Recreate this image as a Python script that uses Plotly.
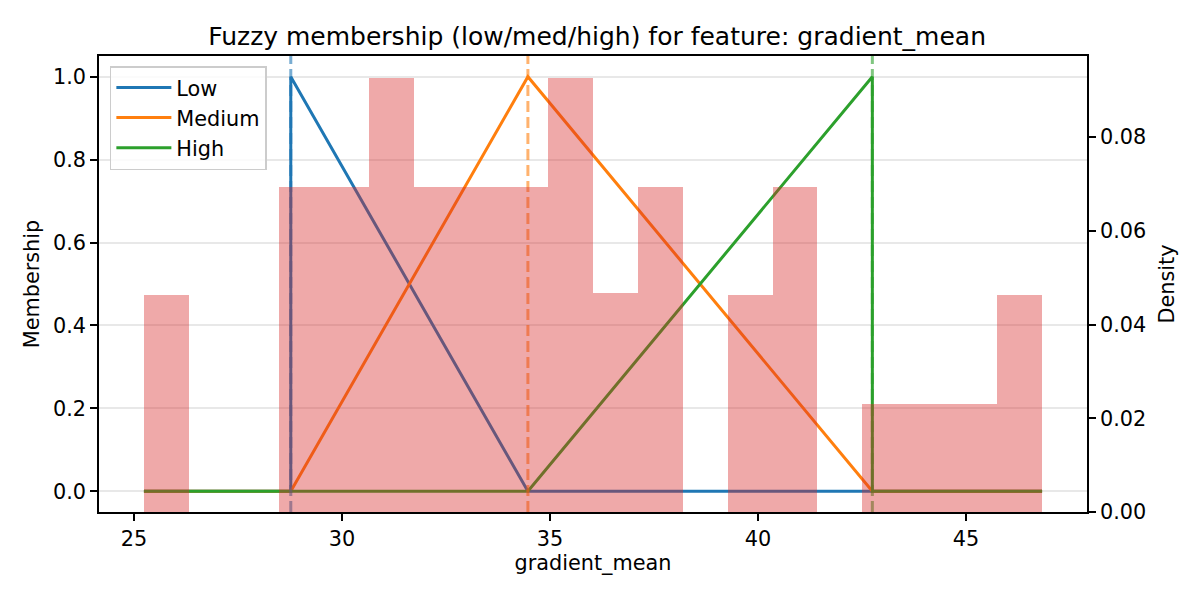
import plotly.graph_objects as go

# histogram of the feature (density, 20 bins, n = 40)
bin_edges = [25.24, 26.32, 27.40, 28.48, 29.56, 30.64, 31.72, 32.80, 33.88, 34.96,
             36.04, 37.11, 38.19, 39.27, 40.35, 41.43, 42.51, 43.59, 44.67, 45.75, 46.83]
bin_counts = [2, 0, 0, 3, 3, 4, 3, 3, 3, 4, 2, 3, 0, 2, 3, 0, 1, 1, 1, 2]
n_samples = 40

# fuzzy set breakpoints
x_min, x_max = 25.24, 46.83
p_low, p_med, p_high = 28.77, 34.47, 42.75

names = ['Low', 'Medium', 'High']
colors = ['#1f77b4', '#ff7f0e', '#2ca02c']
dash_colors = ['rgba(31,119,180,0.6)', 'rgba(255,127,14,0.6)', 'rgba(44,160,44,0.6)']

mf_x = [
    [x_min, p_low, p_low, p_med, x_max],
    [x_min, p_low, p_med, p_high, x_max],
    [x_min, p_med, p_high, p_high, x_max],
]
mf_y = [
    [0, 0, 1, 0, 0],
    [0, 0, 1, 0, 0],
    [0, 0, 1, 0, 0],
]

FONT = 'DejaVu Sans'
FS = 20.8
# page body has an 8px margin, so the figure is a bit smaller to fit the window
W, H = 1192, 592
widths = [bin_edges[i + 1] - bin_edges[i] for i in range(len(bin_counts))]
centers = [(bin_edges[i] + bin_edges[i + 1]) / 2 for i in range(len(bin_counts))]
density = [c / (n_samples * w) for c, w in zip(bin_counts, widths)]

fig = go.Figure()

# membership curves on the left axis
for i in range(3):
    fig.add_trace(go.Scatter(x=mf_x[i], y=mf_y[i], mode='lines', name=names[i],
                             line=dict(color=colors[i], width=3),
                             legendgroup=names[i], yaxis='y'))

# dashed breakpoint markers
for p, c in zip([p_low, p_med, p_high], dash_colors):
    fig.add_trace(go.Scatter(x=[p, p], y=[-0.05, 1.05], mode='lines', showlegend=False,
                             line=dict(color=c, width=3, dash='11px,5px'),
                             hoverinfo='skip', yaxis='y'))

# histogram on the right axis (drawn above the lines)
fig.add_trace(go.Bar(x=centers, y=density, width=widths, showlegend=False,
                     marker=dict(color='rgba(214,39,40,0.4)', line=dict(width=0)),
                     yaxis='y2'))

axis_common = dict(showline=True, linecolor='black', linewidth=1.6, ticks='outside',
                   ticklen=7, tickwidth=1.6, tickcolor='black',
                   tickfont=dict(size=FS, color='black'),
                   zeroline=False, automargin=False)

fig.update_layout(
    width=W, height=H,
    margin=dict(l=91, r=113, t=48, b=88),
    plot_bgcolor='white', paper_bgcolor='white',
    font=dict(family=FONT, size=FS, color='black'),
    bargap=0,
    title=dict(text='Fuzzy membership (low/med/high) for feature: gradient_mean',
               x=0.4942, xanchor='center', y=1 - 28 / H, yanchor='middle',
               font=dict(size=25, color='black')),
    xaxis=dict(range=[24.16, 47.91], tickvals=[25, 30, 35, 40, 45], showgrid=False,
               mirror=True, title=dict(text='gradient_mean', font=dict(size=FS), standoff=4),
               **axis_common),
    yaxis=dict(range=[-0.05, 1.05], tickvals=[0, 0.2, 0.4, 0.6, 0.8, 1.0], tickformat='.1f',
               showgrid=True, gridcolor='#e8e8e8', gridwidth=1.5,
               title=dict(text='Membership', font=dict(size=FS), standoff=8),
               **axis_common),
    yaxis2=dict(range=[0, 0.0973], tickvals=[0, 0.02, 0.04, 0.06, 0.08], tickformat='.2f',
                overlaying='y', side='right', showgrid=False,
                title=dict(text='Density', font=dict(size=FS), standoff=14),
                **axis_common),
    legend=dict(x=0.011, y=0.978, xanchor='left', yanchor='top',
                bgcolor='rgba(255,255,255,0.8)', bordercolor='#cccccc', borderwidth=1.5,
                font=dict(size=FS), traceorder='grouped', tracegroupgap=0, itemwidth=55),
)

fig.write_html('out.html')
